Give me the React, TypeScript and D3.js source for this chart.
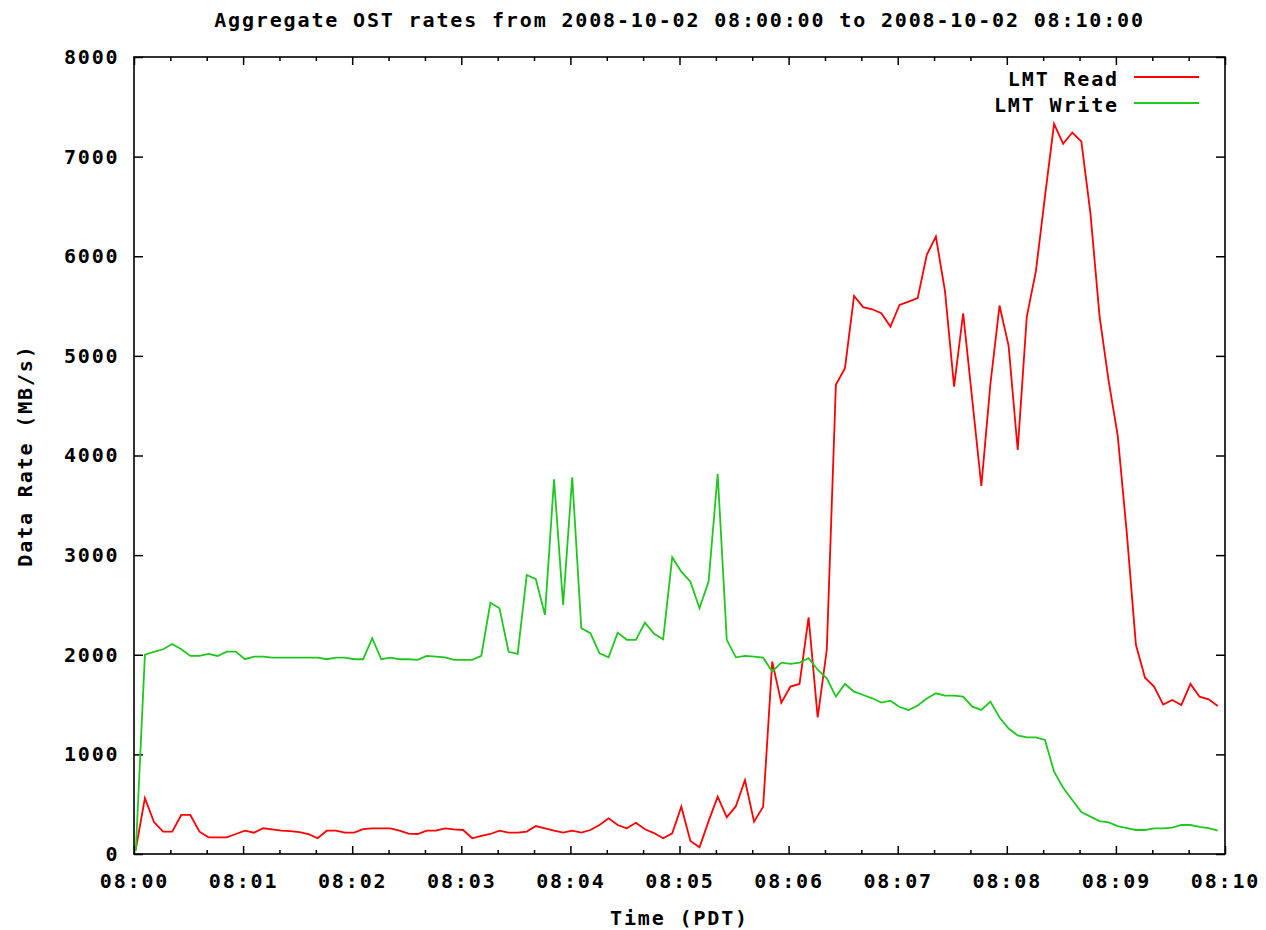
import React, { useRef, useEffect } from 'react';
import * as d3 from 'd3';

// samples every 5 s, first one 1 s after 08:00:00
const SAMPLE_START = 1;
const SAMPLE_STEP = 5;

const readRates = [
  50, 560, 320, 224, 224, 392, 392, 224, 167, 167,
  167, 201, 234, 214, 258, 248, 234, 230, 220, 200,
  158, 234, 234, 214, 214, 250, 258, 258, 258, 234,
  205, 201, 234, 234, 258, 248, 241, 158, 181, 201,
  234, 214, 214, 225, 281, 258, 234, 214, 234, 214,
  241, 291, 358, 291, 258, 314, 248, 210, 158, 207,
  475, 130, 67, 330, 575, 368, 480, 743, 324, 475,
  1931, 1519, 1680, 1707, 2376, 1372, 2050, 4709, 4876, 5602,
  5489, 5468, 5428, 5294, 5512, 5545, 5579, 6014, 6198, 5650,
  4692, 5428, 4560, 3695, 4720, 5505, 5100, 4056, 5395, 5850,
  6600, 7329, 7129, 7242, 7152, 6430, 5400, 4750, 4200, 3220,
  2100, 1770, 1680, 1500, 1546, 1496, 1707, 1579, 1553, 1486
];

const writeRates = [
  30, 2000, 2030, 2055, 2108, 2055, 1988, 1988, 2008, 1988,
  2031, 2031, 1955, 1981, 1981, 1971, 1971, 1971, 1971, 1971,
  1971, 1955, 1971, 1971, 1955, 1955, 2166, 1955, 1971, 1955,
  1955, 1948, 1988, 1981, 1974, 1948, 1948, 1948, 1988, 2523,
  2466, 2030, 2008, 2800, 2758, 2400, 3762, 2500, 3782, 2266,
  2216, 2015, 1974, 2222, 2150, 2149, 2322, 2210, 2155, 2979,
  2834, 2734, 2466, 2734, 3815, 2150, 1974, 1988, 1981, 1971,
  1831, 1921, 1908, 1921, 1965, 1850, 1764, 1580, 1707, 1630,
  1596, 1563, 1519, 1539, 1475, 1446, 1490, 1560, 1613, 1590,
  1590, 1580, 1479, 1446, 1530, 1370, 1260, 1190, 1171, 1171,
  1145, 826, 665, 542, 420, 375, 330, 318, 280, 260,
  241, 241, 258, 258, 265, 291, 291, 272, 260, 234
];

const xTickLabels = ['08:00', '08:01', '08:02', '08:03', '08:04', '08:05', '08:06', '08:07', '08:08', '08:09', '08:10'];
const yTicks = [0, 1000, 2000, 3000, 4000, 5000, 6000, 7000, 8000];

const series = [
  { name: 'LMT Read', values: readRates, color: '#ff0000' },
  { name: 'LMT Write', values: writeRates, color: '#1ec81e' }
];

const FONT = '"DejaVu Sans Mono", "Liberation Mono", monospace';

const App: React.FC = () => {
  const svgRef = useRef<SVGSVGElement>(null);
  const width = 1266;
  const height = 930;

  useEffect(() => {
    if (!svgRef.current) return;
    const svg = d3.select(svgRef.current);
    svg.selectAll('*').remove();

    const left = 134, right = 1225, top = 57, bottom = 854;

    const x = d3.scaleLinear().domain([0, 600]).range([left, right]);
    const y = d3.scaleLinear().domain([0, 8000]).range([bottom, top]);

    svg.append('rect').attr('width', width).attr('height', height).attr('fill', '#fff');

    const styleText = (sel: any) => sel
      .style('font-family', FONT)
      .style('font-size', '20px')
      .style('font-weight', 'bold')
      .style('letter-spacing', '1.85px')
      .attr('fill', '#000');

    const majorX = xTickLabels.map((_, i) => i * 60);
    const minorX = d3.range(0, 601, 20).filter(s => s % 60 !== 0);

    // bottom axis (ticks point inward)
    svg.append('g').attr('transform', `translate(0,${bottom})`)
      .call(d3.axisBottom(x).tickValues(majorX)
        .tickFormat((_, i) => xTickLabels[i])
        .tickSizeInner(-8).tickSizeOuter(0).tickPadding(20));
    svg.append('g').attr('transform', `translate(0,${bottom})`)
      .call(d3.axisBottom(x).tickValues(minorX).tickFormat(() => '').tickSizeInner(-4).tickSizeOuter(0));

    // top mirror
    svg.append('g').attr('transform', `translate(0,${top})`)
      .call(d3.axisTop(x).tickValues(majorX).tickFormat(() => '').tickSizeInner(-8).tickSizeOuter(0));
    svg.append('g').attr('transform', `translate(0,${top})`)
      .call(d3.axisTop(x).tickValues(minorX).tickFormat(() => '').tickSizeInner(-4).tickSizeOuter(0));

    // left + right
    svg.append('g').attr('transform', `translate(${left},0)`)
      .call(d3.axisLeft(y).tickValues(yTicks).tickFormat(d3.format('d'))
        .tickSizeInner(-9).tickSizeOuter(0).tickPadding(14.5));
    svg.append('g').attr('transform', `translate(${right},0)`)
      .call(d3.axisRight(y).tickValues(yTicks).tickFormat(() => '').tickSizeInner(-9).tickSizeOuter(0));

    svg.selectAll('.domain').remove();
    svg.selectAll('.tick line').attr('stroke', '#000').attr('stroke-width', 1.5);
    styleText(svg.selectAll('.tick text'));

    // data
    const times = readRates.map((_, i) => SAMPLE_START + i * SAMPLE_STEP);
    const line = d3.line<number>()
      .x((_, i) => x(times[i]))
      .y(d => y(d));

    series.forEach(s => {
      svg.append('path')
        .datum(s.values)
        .attr('fill', 'none')
        .attr('stroke', s.color)
        .attr('stroke-width', 1.8)
        .attr('stroke-linejoin', 'miter')
        .attr('d', line);
    });

    // border
    svg.append('rect')
      .attr('x', left).attr('y', top)
      .attr('width', right - left).attr('height', bottom - top)
      .attr('fill', 'none').attr('stroke', '#000').attr('stroke-width', 1.6);

    // legend
    series.forEach((s, i) => {
      const ly = 77 + i * 26;
      svg.append('text')
        .attr('x', 1119).attr('y', ly + 9)
        .attr('text-anchor', 'end')
        .call(styleText)
        .text(s.name);
      svg.append('line')
        .attr('x1', 1134).attr('x2', 1199)
        .attr('y1', ly).attr('y2', ly)
        .attr('stroke', s.color).attr('stroke-width', 1.8);
    });

    // titles
    svg.append('text')
      .attr('x', (left + right) / 2).attr('y', 27)
      .attr('text-anchor', 'middle')
      .call(styleText)
      .text('Aggregate OST rates from 2008-10-02 08:00:00 to 2008-10-02 08:10:00');

    svg.append('text')
      .attr('x', (left + right) / 2).attr('y', 925)
      .attr('text-anchor', 'middle')
      .call(styleText)
      .text('Time (PDT)');

    svg.append('text')
      .attr('transform', `translate(32,${(top + bottom) / 2}) rotate(-90)`)
      .attr('text-anchor', 'middle')
      .call(styleText)
      .text('Data Rate (MB/s)');
  }, []);

  return (
    <svg
      ref={svgRef}
      width={width}
      height={height}
      style={{ position: 'absolute', left: 0, top: 0, background: '#fff' }}
    />
  );
};

export default App;
